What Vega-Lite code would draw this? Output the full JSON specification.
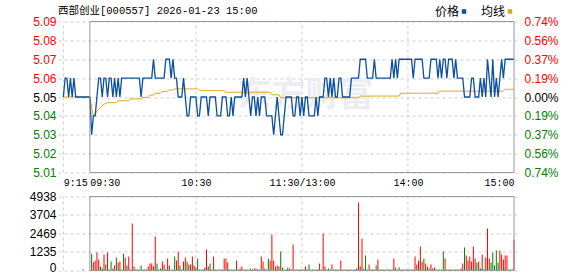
{
  "$schema": "https://vega.github.io/schema/vega-lite/v6.json",
  "width": 461,
  "height": 249,
  "autosize": {"type": "none"},
  "padding": {"left": 58, "top": 21.5, "right": 59, "bottom": 5.5},
  "background": "#ffffff",
  "data": {"values": [{}]},
  "title": {
    "text": "西部创业[000557] 2026-01-23 15:00",
    "anchor": "start",
    "frame": "group",
    "font": "Liberation Mono, Noto Sans CJK SC",
    "fontSize": 10.5,
    "fontWeight": "normal",
    "color": "#000000",
    "offset": 0,
    "dy": 11
  },
  "datasets": {
    "grid": [{"t": -15}, {"t": 60}, {"t": 120}, {"t": 180}],
    "price": [
      {"t":-15,"p":5.05,"a":5.05},{"t":-14,"p":5.06,"a":5.05},{"t":-13,"p":5.06,"a":5.05},{"t":-12,"p":5.05,"a":5.05},{"t":-11,"p":5.06,"a":5.05},{"t":-10,"p":5.05,"a":5.05},{"t":-9,"p":5.06,"a":5.05},{"t":-8,"p":5.05,"a":5.05},{"t":-7,"p":5.05,"a":5.05},{"t":-6,"p":5.05,"a":5.05},{"t":-5,"p":5.05,"a":5.05},{"t":-4,"p":5.05,"a":5.05},{"t":-3,"p":5.05,"a":5.05},{"t":-2,"p":5.05,"a":5.05},{"t":-1,"p":5.05,"a":5.05},
      {"t":0,"p":5.05,"a":5.05},{"t":1,"p":5.03,"a":5.0446},{"t":2,"p":5.04,"a":5.0395},{"t":3,"p":5.04,"a":5.041},{"t":4,"p":5.05,"a":5.0425},{"t":5,"p":5.06,"a":5.0435},{"t":6,"p":5.06,"a":5.0445},{"t":7,"p":5.05,"a":5.0455},{"t":8,"p":5.06,"a":5.0462},{"t":9,"p":5.06,"a":5.0467},
      {"t":10,"p":5.05,"a":5.047},{"t":11,"p":5.06,"a":5.047},{"t":12,"p":5.06,"a":5.047},{"t":13,"p":5.05,"a":5.047},{"t":14,"p":5.06,"a":5.047},{"t":15,"p":5.05,"a":5.047},{"t":16,"p":5.06,"a":5.048},{"t":17,"p":5.05,"a":5.048},{"t":18,"p":5.06,"a":5.048},{"t":19,"p":5.06,"a":5.048},
      {"t":20,"p":5.06,"a":5.048},{"t":21,"p":5.06,"a":5.048},{"t":22,"p":5.06,"a":5.048},{"t":23,"p":5.06,"a":5.049},{"t":24,"p":5.06,"a":5.049},{"t":25,"p":5.06,"a":5.049},{"t":26,"p":5.06,"a":5.049},{"t":27,"p":5.06,"a":5.049},{"t":28,"p":5.06,"a":5.049},{"t":29,"p":5.05,"a":5.049},
      {"t":30,"p":5.06,"a":5.0498},{"t":31,"p":5.06,"a":5.0498},{"t":32,"p":5.06,"a":5.0498},{"t":33,"p":5.06,"a":5.0498},{"t":34,"p":5.06,"a":5.051},{"t":35,"p":5.06,"a":5.051},{"t":36,"p":5.07,"a":5.051},{"t":37,"p":5.06,"a":5.052},{"t":38,"p":5.06,"a":5.052},{"t":39,"p":5.06,"a":5.052},
      {"t":40,"p":5.06,"a":5.052},{"t":41,"p":5.06,"a":5.053},{"t":42,"p":5.06,"a":5.053},{"t":43,"p":5.07,"a":5.053},{"t":44,"p":5.07,"a":5.053},{"t":45,"p":5.07,"a":5.0537},{"t":46,"p":5.06,"a":5.0537},{"t":47,"p":5.07,"a":5.0537},{"t":48,"p":5.06,"a":5.0543},{"t":49,"p":5.06,"a":5.0543},
      {"t":50,"p":5.05,"a":5.0543},{"t":51,"p":5.05,"a":5.0543},{"t":52,"p":5.05,"a":5.0543},{"t":53,"p":5.06,"a":5.0543},{"t":54,"p":5.05,"a":5.0543},{"t":55,"p":5.04,"a":5.0543},{"t":56,"p":5.04,"a":5.0543},{"t":57,"p":5.05,"a":5.0543},{"t":58,"p":5.05,"a":5.0543},{"t":59,"p":5.05,"a":5.0543},
      {"t":60,"p":5.05,"a":5.0543},{"t":61,"p":5.04,"a":5.0543},{"t":62,"p":5.04,"a":5.0534},{"t":63,"p":5.05,"a":5.0534},{"t":64,"p":5.05,"a":5.0534},{"t":65,"p":5.05,"a":5.0534},{"t":66,"p":5.05,"a":5.0534},{"t":67,"p":5.04,"a":5.0534},{"t":68,"p":5.05,"a":5.0534},{"t":69,"p":5.05,"a":5.0534},
      {"t":70,"p":5.05,"a":5.0534},{"t":71,"p":5.05,"a":5.0534},{"t":72,"p":5.04,"a":5.0534},{"t":73,"p":5.04,"a":5.0534},{"t":74,"p":5.04,"a":5.0534},{"t":75,"p":5.05,"a":5.0534},{"t":76,"p":5.05,"a":5.0534},{"t":77,"p":5.05,"a":5.0525},{"t":78,"p":5.04,"a":5.0525},{"t":79,"p":5.04,"a":5.0525},
      {"t":80,"p":5.05,"a":5.0525},{"t":81,"p":5.04,"a":5.0525},{"t":82,"p":5.05,"a":5.0525},{"t":83,"p":5.05,"a":5.0525},{"t":84,"p":5.05,"a":5.0525},{"t":85,"p":5.05,"a":5.0525},{"t":86,"p":5.05,"a":5.0525},{"t":87,"p":5.06,"a":5.0525},{"t":88,"p":5.05,"a":5.0525},{"t":89,"p":5.06,"a":5.0525},
      {"t":90,"p":5.05,"a":5.0525},{"t":91,"p":5.04,"a":5.0525},{"t":92,"p":5.05,"a":5.0525},{"t":93,"p":5.05,"a":5.0525},{"t":94,"p":5.04,"a":5.0525},{"t":95,"p":5.05,"a":5.0525},{"t":96,"p":5.04,"a":5.0525},{"t":97,"p":5.05,"a":5.0525},{"t":98,"p":5.05,"a":5.0525},{"t":99,"p":5.05,"a":5.0525},
      {"t":100,"p":5.04,"a":5.0525},{"t":101,"p":5.04,"a":5.0525},{"t":102,"p":5.04,"a":5.0525},{"t":103,"p":5.04,"a":5.0512},{"t":104,"p":5.03,"a":5.0512},{"t":105,"p":5.04,"a":5.0512},{"t":106,"p":5.05,"a":5.0512},{"t":107,"p":5.04,"a":5.0512},{"t":108,"p":5.03,"a":5.0496},{"t":109,"p":5.03,"a":5.0496},
      {"t":110,"p":5.04,"a":5.0496},{"t":111,"p":5.05,"a":5.0496},{"t":112,"p":5.05,"a":5.0496},{"t":113,"p":5.05,"a":5.0496},{"t":114,"p":5.05,"a":5.0496},{"t":115,"p":5.04,"a":5.0496},{"t":116,"p":5.04,"a":5.0496},{"t":117,"p":5.05,"a":5.0496},{"t":118,"p":5.05,"a":5.0496},{"t":119,"p":5.04,"a":5.0496},
      {"t":120,"p":5.05,"a":5.0496},{"t":121,"p":5.04,"a":5.0496},{"t":122,"p":5.05,"a":5.0496},{"t":123,"p":5.05,"a":5.0496},{"t":124,"p":5.04,"a":5.0496},{"t":125,"p":5.04,"a":5.0496},{"t":126,"p":5.04,"a":5.0496},{"t":127,"p":5.04,"a":5.0496},{"t":128,"p":5.05,"a":5.0496},{"t":129,"p":5.04,"a":5.0496},
      {"t":130,"p":5.05,"a":5.0496},{"t":131,"p":5.05,"a":5.0496},{"t":132,"p":5.05,"a":5.0496},{"t":133,"p":5.06,"a":5.0496},{"t":134,"p":5.06,"a":5.0496},{"t":135,"p":5.05,"a":5.0496},{"t":136,"p":5.06,"a":5.0496},{"t":137,"p":5.05,"a":5.0496},{"t":138,"p":5.06,"a":5.0496},{"t":139,"p":5.05,"a":5.0496},
      {"t":140,"p":5.05,"a":5.0496},{"t":141,"p":5.06,"a":5.0496},{"t":142,"p":5.06,"a":5.0496},{"t":143,"p":5.05,"a":5.0496},{"t":144,"p":5.05,"a":5.0496},{"t":145,"p":5.05,"a":5.0496},{"t":146,"p":5.05,"a":5.0496},{"t":147,"p":5.05,"a":5.0496},{"t":148,"p":5.06,"a":5.0496},{"t":149,"p":5.06,"a":5.0496},
      {"t":150,"p":5.06,"a":5.0496},{"t":151,"p":5.06,"a":5.0496},{"t":152,"p":5.06,"a":5.0496},{"t":153,"p":5.07,"a":5.0505},{"t":154,"p":5.07,"a":5.0505},{"t":155,"p":5.07,"a":5.0505},{"t":156,"p":5.07,"a":5.0505},{"t":157,"p":5.06,"a":5.0505},{"t":158,"p":5.06,"a":5.0505},{"t":159,"p":5.06,"a":5.0505},
      {"t":160,"p":5.06,"a":5.0505},{"t":161,"p":5.07,"a":5.0505},{"t":162,"p":5.06,"a":5.0505},{"t":163,"p":5.06,"a":5.0505},{"t":164,"p":5.06,"a":5.0505},{"t":165,"p":5.06,"a":5.0505},{"t":166,"p":5.06,"a":5.0505},{"t":167,"p":5.06,"a":5.0505},{"t":168,"p":5.06,"a":5.0505},{"t":169,"p":5.06,"a":5.0505},
      {"t":170,"p":5.06,"a":5.0505},{"t":171,"p":5.07,"a":5.0505},{"t":172,"p":5.06,"a":5.0505},{"t":173,"p":5.07,"a":5.0505},{"t":174,"p":5.06,"a":5.0505},{"t":175,"p":5.07,"a":5.0505},{"t":176,"p":5.07,"a":5.052},{"t":177,"p":5.07,"a":5.052},{"t":178,"p":5.07,"a":5.052},{"t":179,"p":5.07,"a":5.052},
      {"t":180,"p":5.07,"a":5.052},{"t":181,"p":5.07,"a":5.052},{"t":182,"p":5.07,"a":5.052},{"t":183,"p":5.06,"a":5.052},{"t":184,"p":5.07,"a":5.052},{"t":185,"p":5.07,"a":5.052},{"t":186,"p":5.07,"a":5.052},{"t":187,"p":5.07,"a":5.052},{"t":188,"p":5.07,"a":5.052},{"t":189,"p":5.06,"a":5.052},
      {"t":190,"p":5.06,"a":5.052},{"t":191,"p":5.06,"a":5.052},{"t":192,"p":5.06,"a":5.052},{"t":193,"p":5.07,"a":5.052},{"t":194,"p":5.07,"a":5.052},{"t":195,"p":5.07,"a":5.052},{"t":196,"p":5.07,"a":5.052},{"t":197,"p":5.06,"a":5.052},{"t":198,"p":5.07,"a":5.0531},{"t":199,"p":5.06,"a":5.0531},
      {"t":200,"p":5.07,"a":5.0531},{"t":201,"p":5.07,"a":5.0531},{"t":202,"p":5.06,"a":5.0531},{"t":203,"p":5.07,"a":5.0531},{"t":204,"p":5.07,"a":5.0531},{"t":205,"p":5.07,"a":5.0531},{"t":206,"p":5.06,"a":5.0531},{"t":207,"p":5.07,"a":5.0531},{"t":208,"p":5.06,"a":5.0531},{"t":209,"p":5.06,"a":5.0531},
      {"t":210,"p":5.06,"a":5.0531},{"t":211,"p":5.06,"a":5.0531},{"t":212,"p":5.05,"a":5.0531},{"t":213,"p":5.05,"a":5.0531},{"t":214,"p":5.05,"a":5.0531},{"t":215,"p":5.05,"a":5.0531},{"t":216,"p":5.06,"a":5.0531},{"t":217,"p":5.06,"a":5.0531},{"t":218,"p":5.05,"a":5.0531},{"t":219,"p":5.05,"a":5.0531},
      {"t":220,"p":5.05,"a":5.0531},{"t":221,"p":5.06,"a":5.0531},{"t":222,"p":5.05,"a":5.0531},{"t":223,"p":5.06,"a":5.0531},{"t":224,"p":5.05,"a":5.0531},{"t":225,"p":5.07,"a":5.0531},{"t":226,"p":5.06,"a":5.0531},{"t":227,"p":5.05,"a":5.0531},{"t":228,"p":5.07,"a":5.0531},{"t":229,"p":5.05,"a":5.0531},
      {"t":230,"p":5.06,"a":5.0531},{"t":231,"p":5.05,"a":5.0531},{"t":232,"p":5.06,"a":5.0531},{"t":233,"p":5.07,"a":5.0531},{"t":234,"p":5.06,"a":5.0531},{"t":235,"p":5.07,"a":5.0541},{"t":236,"p":5.07,"a":5.0541},{"t":237,"p":5.07,"a":5.0541},{"t":238,"p":5.07,"a":5.0541},{"t":239,"p":5.07,"a":5.0541},
      {"t":240,"p":5.07,"a":5.0541}
    ],
    "vol": [
      {"t":-4,"v":67,"dir":"up"},
      {"t":1,"v":1112,"dir":"down"},{"t":2,"v":556,"dir":"up"},{"t":3,"v":667,"dir":"up"},{"t":4,"v":1200,"dir":"up"},{"t":5,"v":734,"dir":"up"},{"t":6,"v":267,"dir":"up"},{"t":7,"v":133,"dir":"down"},{"t":8,"v":1067,"dir":"up"},{"t":9,"v":400,"dir":"down"},
      {"t":10,"v":1200,"dir":"up"},{"t":11,"v":67,"dir":"up"},{"t":12,"v":600,"dir":"down"},{"t":13,"v":133,"dir":"up"},{"t":14,"v":356,"dir":"up"},{"t":15,"v":867,"dir":"down"},{"t":16,"v":534,"dir":"up"},{"t":17,"v":600,"dir":"up"},{"t":18,"v":67,"dir":"up"},{"t":19,"v":1134,"dir":"down"},
      {"t":20,"v":867,"dir":"up"},{"t":21,"v":334,"dir":"up"},{"t":22,"v":934,"dir":"up"},{"t":23,"v":67,"dir":"up"},{"t":24,"v":3136,"dir":"up"},{"t":25,"v":267,"dir":"up"},{"t":26,"v":67,"dir":"up"},{"t":27,"v":67,"dir":"up"},{"t":28,"v":67,"dir":"up"},{"t":29,"v":334,"dir":"down"},
      {"t":30,"v":67,"dir":"up"},{"t":31,"v":67,"dir":"up"},{"t":32,"v":67,"dir":"up"},{"t":33,"v":267,"dir":"up"},{"t":34,"v":467,"dir":"up"},{"t":35,"v":467,"dir":"up"},{"t":36,"v":267,"dir":"up"},{"t":37,"v":2268,"dir":"up"},{"t":38,"v":467,"dir":"down"},{"t":39,"v":67,"dir":"up"},
      {"t":40,"v":133,"dir":"up"},{"t":41,"v":600,"dir":"up"},{"t":42,"v":400,"dir":"up"},{"t":43,"v":67,"dir":"up"},{"t":44,"v":800,"dir":"up"},{"t":45,"v":334,"dir":"up"},{"t":46,"v":67,"dir":"down"},{"t":47,"v":67,"dir":"up"},{"t":48,"v":934,"dir":"down"},{"t":49,"v":667,"dir":"up"},
      {"t":50,"v":1268,"dir":"up"},{"t":51,"v":334,"dir":"down"},{"t":52,"v":67,"dir":"up"},{"t":53,"v":600,"dir":"up"},{"t":54,"v":867,"dir":"up"},{"t":55,"v":600,"dir":"down"},{"t":56,"v":400,"dir":"up"},{"t":57,"v":400,"dir":"up"},{"t":58,"v":934,"dir":"up"},{"t":59,"v":334,"dir":"up"},
      {"t":60,"v":200,"dir":"up"},{"t":61,"v":800,"dir":"down"},{"t":62,"v":67,"dir":"up"},{"t":63,"v":67,"dir":"up"},{"t":64,"v":67,"dir":"up"},{"t":65,"v":200,"dir":"up"},{"t":66,"v":1400,"dir":"up"},{"t":67,"v":267,"dir":"up"},{"t":68,"v":467,"dir":"down"},{"t":69,"v":67,"dir":"up"},
      {"t":70,"v":934,"dir":"up"},{"t":71,"v":67,"dir":"up"},{"t":72,"v":67,"dir":"down"},{"t":73,"v":67,"dir":"up"},{"t":74,"v":67,"dir":"down"},{"t":75,"v":67,"dir":"up"},{"t":76,"v":800,"dir":"up"},{"t":77,"v":800,"dir":"up"},{"t":78,"v":534,"dir":"up"},{"t":79,"v":67,"dir":"down"},
      {"t":80,"v":67,"dir":"up"},{"t":81,"v":67,"dir":"up"},{"t":82,"v":67,"dir":"up"},{"t":83,"v":667,"dir":"up"},{"t":84,"v":67,"dir":"up"},{"t":85,"v":133,"dir":"up"},{"t":86,"v":267,"dir":"up"},{"t":87,"v":67,"dir":"up"},{"t":88,"v":67,"dir":"up"},{"t":89,"v":67,"dir":"up"},
      {"t":90,"v":67,"dir":"up"},{"t":91,"v":133,"dir":"down"},{"t":92,"v":67,"dir":"up"},{"t":93,"v":133,"dir":"up"},{"t":94,"v":133,"dir":"up"},{"t":95,"v":67,"dir":"up"},{"t":96,"v":67,"dir":"up"},{"t":97,"v":934,"dir":"up"},{"t":98,"v":600,"dir":"up"},{"t":99,"v":133,"dir":"up"},
      {"t":100,"v":67,"dir":"up"},{"t":101,"v":800,"dir":"down"},{"t":102,"v":667,"dir":"up"},{"t":103,"v":2402,"dir":"up"},{"t":104,"v":667,"dir":"up"},{"t":105,"v":267,"dir":"down"},{"t":106,"v":334,"dir":"up"},{"t":107,"v":267,"dir":"up"},{"t":108,"v":1268,"dir":"down"},{"t":109,"v":200,"dir":"down"},
      {"t":110,"v":67,"dir":"up"},{"t":111,"v":67,"dir":"up"},{"t":112,"v":200,"dir":"down"},{"t":113,"v":133,"dir":"up"},{"t":114,"v":67,"dir":"up"},{"t":115,"v":1735,"dir":"up"},{"t":116,"v":67,"dir":"up"},{"t":117,"v":67,"dir":"up"},{"t":118,"v":67,"dir":"down"},{"t":119,"v":67,"dir":"up"},
      {"t":120,"v":67,"dir":"up"},{"t":121,"v":67,"dir":"up"},{"t":122,"v":267,"dir":"up"},{"t":123,"v":67,"dir":"up"},{"t":124,"v":400,"dir":"down"},{"t":125,"v":67,"dir":"up"},{"t":126,"v":67,"dir":"down"},{"t":127,"v":67,"dir":"down"},{"t":128,"v":67,"dir":"up"},{"t":129,"v":67,"dir":"up"},
      {"t":130,"v":467,"dir":"up"},{"t":131,"v":67,"dir":"up"},{"t":132,"v":2469,"dir":"up"},{"t":133,"v":267,"dir":"up"},{"t":134,"v":67,"dir":"up"},{"t":135,"v":133,"dir":"down"},{"t":136,"v":67,"dir":"up"},{"t":137,"v":400,"dir":"up"},{"t":138,"v":67,"dir":"up"},{"t":139,"v":67,"dir":"up"},
      {"t":140,"v":67,"dir":"up"},{"t":141,"v":67,"dir":"up"},{"t":142,"v":667,"dir":"up"},{"t":143,"v":67,"dir":"up"},{"t":144,"v":67,"dir":"up"},{"t":145,"v":67,"dir":"up"},{"t":146,"v":67,"dir":"up"},{"t":147,"v":67,"dir":"up"},{"t":148,"v":67,"dir":"up"},{"t":149,"v":67,"dir":"up"},
      {"t":150,"v":67,"dir":"up"},{"t":151,"v":133,"dir":"up"},{"t":152,"v":4537,"dir":"up"},{"t":153,"v":267,"dir":"up"},{"t":154,"v":2135,"dir":"up"},{"t":155,"v":133,"dir":"up"},{"t":156,"v":1000,"dir":"down"},{"t":157,"v":67,"dir":"up"},{"t":158,"v":400,"dir":"up"},{"t":159,"v":67,"dir":"up"},
      {"t":160,"v":67,"dir":"up"},{"t":161,"v":67,"dir":"up"},{"t":162,"v":334,"dir":"down"},{"t":163,"v":734,"dir":"up"},{"t":164,"v":67,"dir":"up"},{"t":165,"v":67,"dir":"up"},{"t":166,"v":67,"dir":"up"},{"t":167,"v":67,"dir":"up"},{"t":168,"v":67,"dir":"up"},{"t":169,"v":67,"dir":"up"},
      {"t":170,"v":67,"dir":"up"},{"t":171,"v":67,"dir":"up"},{"t":172,"v":800,"dir":"up"},{"t":173,"v":200,"dir":"up"},{"t":174,"v":67,"dir":"down"},{"t":175,"v":200,"dir":"up"},{"t":176,"v":67,"dir":"up"},{"t":177,"v":67,"dir":"up"},{"t":178,"v":67,"dir":"up"},{"t":179,"v":67,"dir":"up"},
      {"t":180,"v":67,"dir":"up"},{"t":181,"v":67,"dir":"up"},{"t":182,"v":67,"dir":"down"},{"t":183,"v":67,"dir":"up"},{"t":184,"v":934,"dir":"up"},{"t":185,"v":400,"dir":"up"},{"t":186,"v":667,"dir":"up"},{"t":187,"v":1601,"dir":"up"},{"t":188,"v":600,"dir":"up"},{"t":189,"v":800,"dir":"down"},
      {"t":190,"v":467,"dir":"up"},{"t":191,"v":267,"dir":"up"},{"t":192,"v":133,"dir":"up"},{"t":193,"v":400,"dir":"up"},{"t":194,"v":133,"dir":"up"},{"t":195,"v":200,"dir":"up"},{"t":196,"v":67,"dir":"up"},{"t":197,"v":67,"dir":"up"},{"t":198,"v":67,"dir":"down"},{"t":199,"v":67,"dir":"up"},
      {"t":200,"v":1268,"dir":"down"},{"t":201,"v":800,"dir":"up"},{"t":202,"v":67,"dir":"up"},{"t":203,"v":67,"dir":"up"},{"t":204,"v":67,"dir":"up"},{"t":205,"v":67,"dir":"up"},{"t":206,"v":67,"dir":"up"},{"t":207,"v":67,"dir":"up"},{"t":208,"v":67,"dir":"down"},{"t":209,"v":67,"dir":"up"},
      {"t":210,"v":133,"dir":"up"},{"t":211,"v":467,"dir":"up"},{"t":212,"v":1535,"dir":"down"},{"t":213,"v":1000,"dir":"up"},{"t":214,"v":667,"dir":"up"},{"t":215,"v":934,"dir":"up"},{"t":216,"v":600,"dir":"up"},{"t":217,"v":1601,"dir":"up"},{"t":218,"v":800,"dir":"up"},{"t":219,"v":534,"dir":"down"},
      {"t":220,"v":600,"dir":"up"},{"t":221,"v":133,"dir":"up"},{"t":222,"v":1067,"dir":"up"},{"t":223,"v":67,"dir":"up"},{"t":224,"v":867,"dir":"up"},{"t":225,"v":2802,"dir":"up"},{"t":226,"v":800,"dir":"up"},{"t":227,"v":534,"dir":"down"},{"t":228,"v":1200,"dir":"down"},{"t":229,"v":334,"dir":"down"},
      {"t":230,"v":1334,"dir":"down"},{"t":231,"v":534,"dir":"down"},{"t":232,"v":1334,"dir":"up"},{"t":233,"v":1067,"dir":"up"},{"t":234,"v":734,"dir":"up"},{"t":235,"v":1000,"dir":"up"},{"t":236,"v":1000,"dir":"up"},{"t":237,"v":67,"dir":"up"},{"t":238,"v":67,"dir":"up"},{"t":239,"v":67,"dir":"up"},
      {"t":240,"v":2068,"dir":"up"}
    ]
  },
  "layer": [
    {
      "mark": {"type": "text", "text": "东方财富", "font": "Noto Sans CJK SC", "fontSize": 34, "fontWeight": "bold", "color": "#ededf1"},
      "encoding": {
        "x": {"datum": 122, "type": "quantitative", "title": null, "scale": {"domain": [-15.2, 240], "nice": false, "zero": false},
          "axis": {"orient": "bottom", "offset": -98, "grid": false, "title": null, "values": [-15, 0, 60, 120, 180, 240], "labelFont": "Liberation Mono", "labelFontSize": 10, "labelPadding": 5, "labelFlush": false, "labelOverlap": false, "labelExpr": "datum.value == -15 ? '9:15' : datum.value == 0 ? '09:30' : datum.value == 60 ? '10:30' : datum.value == 120 ? '11:30/13:00' : datum.value == 180 ? '14:00' : '15:00'", "labelAlign": {"condition": [{"test": "datum.value < 1", "value": "left"}, {"test": "datum.value > 239", "value": "right"}], "value": "center"}}},
        "y": {"datum": 5.0505, "type": "quantitative", "axis": null, "scale": {"domain": [5.01, 5.09], "range": [151, 0], "nice": false, "zero": false}}
      }
    },
    {
      "data": {"name": "grid"},
      "mark": {"type": "rule", "stroke": "#cccccc", "strokeDash": [3, 3], "strokeWidth": 1},
      "encoding": {
        "x": {"field": "t", "type": "quantitative", "title": null, "scale": {"domain": [-15.2, 240], "nice": false, "zero": false},
          "axis": {"orient": "bottom", "offset": -98, "grid": false, "title": null, "values": [-15, 0, 60, 120, 180, 240], "labelFont": "Liberation Mono", "labelFontSize": 10, "labelPadding": 5, "labelFlush": false, "labelOverlap": false, "labelExpr": "datum.value == -15 ? '9:15' : datum.value == 0 ? '09:30' : datum.value == 60 ? '10:30' : datum.value == 120 ? '11:30/13:00' : datum.value == 180 ? '14:00' : '15:00'", "labelAlign": {"condition": [{"test": "datum.value < 1", "value": "left"}, {"test": "datum.value > 239", "value": "right"}], "value": "center"}}},
        "y": {"datum": 5.01, "type": "quantitative", "axis": null, "scale": {"domain": [5.01, 5.09], "range": [151, 0], "nice": false, "zero": false}},
        "y2": {"datum": 5.09}
      }
    },
    {
      "data": {"name": "grid"},
      "mark": {"type": "rule", "stroke": "#cccccc", "strokeDash": [3, 3], "strokeWidth": 1},
      "encoding": {
        "x": {"field": "t", "type": "quantitative", "title": null, "scale": {"domain": [-15.2, 240], "nice": false, "zero": false},
          "axis": {"orient": "bottom", "offset": -98, "grid": false, "title": null, "values": [-15, 0, 60, 120, 180, 240], "labelFont": "Liberation Mono", "labelFontSize": 10, "labelPadding": 5, "labelFlush": false, "labelOverlap": false, "labelExpr": "datum.value == -15 ? '9:15' : datum.value == 0 ? '09:30' : datum.value == 60 ? '10:30' : datum.value == 120 ? '11:30/13:00' : datum.value == 180 ? '14:00' : '15:00'", "labelAlign": {"condition": [{"test": "datum.value < 1", "value": "left"}, {"test": "datum.value > 239", "value": "right"}], "value": "center"}}},
        "y": {"datum": 0, "type": "quantitative", "axis": null, "scale": {"domain": [0, 4938], "range": [249, 175], "nice": false}},
        "y2": {"datum": 4938}
      }
    },
    {
      "data": {"name": "vol"},
      "mark": {"type": "bar", "width": 1},
      "encoding": {
        "x": {"field": "t", "type": "quantitative", "title": null, "scale": {"domain": [-15.2, 240], "nice": false, "zero": false},
          "axis": {"orient": "bottom", "offset": -98, "grid": false, "title": null, "values": [-15, 0, 60, 120, 180, 240], "labelFont": "Liberation Mono", "labelFontSize": 10, "labelPadding": 5, "labelFlush": false, "labelOverlap": false, "labelExpr": "datum.value == -15 ? '9:15' : datum.value == 0 ? '09:30' : datum.value == 60 ? '10:30' : datum.value == 120 ? '11:30/13:00' : datum.value == 180 ? '14:00' : '15:00'", "labelAlign": {"condition": [{"test": "datum.value < 1", "value": "left"}, {"test": "datum.value > 239", "value": "right"}], "value": "center"}}},
        "y": {
          "field": "v", "type": "quantitative", "title": null,
          "scale": {"domain": [0, 4938], "range": [249, 175], "nice": false},
          "axis": {
            "orient": "left", "grid": true, "labelPadding": 2, "format": "d", "values": [0, 1235, 2469, 3704, 4938], "labelOverlap": false,
            "labelOffset": {"condition": {"test": "datum.value < 1", "value": -3}, "value": 0}
          }
        },
        "fill": {"field": "dir", "type": "nominal", "scale": {"domain": ["up", "down"], "range": ["#ff0000", "#008000"]}, "legend": null}
      }
    },
    {
      "data": {"name": "price"},
      "mark": {"type": "line", "strokeWidth": 1, "interpolate": "linear"},
      "encoding": {
        "x": {"field": "t", "type": "quantitative", "title": null, "scale": {"domain": [-15.2, 240], "nice": false, "zero": false},
          "axis": {"orient": "bottom", "offset": -98, "grid": false, "title": null, "values": [-15, 0, 60, 120, 180, 240], "labelFont": "Liberation Mono", "labelFontSize": 10, "labelPadding": 5, "labelFlush": false, "labelOverlap": false, "labelExpr": "datum.value == -15 ? '9:15' : datum.value == 0 ? '09:30' : datum.value == 60 ? '10:30' : datum.value == 120 ? '11:30/13:00' : datum.value == 180 ? '14:00' : '15:00'", "labelAlign": {"condition": [{"test": "datum.value < 1", "value": "left"}, {"test": "datum.value > 239", "value": "right"}], "value": "center"}}},
        "y": {
          "field": "a", "type": "quantitative", "title": null,
          "scale": {"domain": [5.01, 5.09], "range": [151, 0], "nice": false, "zero": false},
          "axis": {
            "orient": "right", "grid": false, "labelPadding": 5,
            "values": [5.01, 5.02, 5.03, 5.04, 5.05, 5.06, 5.07, 5.08, 5.09],
            "labelExpr": "abs(datum.value-5.05)<0.005 ? '0.00%' : abs(datum.value-5.05)<0.015 ? '0.19%' : abs(datum.value-5.05)<0.025 ? '0.37%' : abs(datum.value-5.05)<0.035 ? '0.56%' : '0.74%'",
            "labelColor": {"condition": [{"test": "datum.value > 5.055", "value": "#ff0000"}, {"test": "datum.value < 5.045", "value": "#008000"}], "value": "#000000"}
          }
        },
        "color": {"datum": "均线", "type": "nominal"}
      }
    },
    {
      "data": {"name": "price"},
      "mark": {"type": "line", "strokeWidth": 1.3, "interpolate": "linear"},
      "encoding": {
        "x": {"field": "t", "type": "quantitative", "title": null, "scale": {"domain": [-15.2, 240], "nice": false, "zero": false},
          "axis": {"orient": "bottom", "offset": -98, "grid": false, "title": null, "values": [-15, 0, 60, 120, 180, 240], "labelFont": "Liberation Mono", "labelFontSize": 10, "labelPadding": 5, "labelFlush": false, "labelOverlap": false, "labelExpr": "datum.value == -15 ? '9:15' : datum.value == 0 ? '09:30' : datum.value == 60 ? '10:30' : datum.value == 120 ? '11:30/13:00' : datum.value == 180 ? '14:00' : '15:00'", "labelAlign": {"condition": [{"test": "datum.value < 1", "value": "left"}, {"test": "datum.value > 239", "value": "right"}], "value": "center"}}},
        "y": {
          "field": "p", "type": "quantitative", "title": null,
          "scale": {"domain": [5.01, 5.09], "range": [151, 0], "nice": false, "zero": false},
          "axis": {
            "orient": "left", "grid": true, "labelPadding": 2, "format": ".2f",
            "values": [5.01, 5.02, 5.03, 5.04, 5.05, 5.06, 5.07, 5.08, 5.09],
            "labelColor": {"condition": [{"test": "datum.value > 5.055", "value": "#ff0000"}, {"test": "datum.value < 5.045", "value": "#008000"}], "value": "#000000"}
          }
        },
        "color": {
          "datum": "价格", "type": "nominal",
          "scale": {"domain": ["价格", "均线"], "range": ["#0b4fa0", "#e0a317"]},
          "legend": {
            "orient": "none", "legendX": 400, "legendY": -16, "direction": "horizontal", "title": null,
            "symbolType": "square", "symbolSize": 4, "symbolStrokeWidth": 2.5,
            "labelFont": "Noto Sans CJK SC", "labelFontSize": 12, "labelColor": "#000000",
            "labelAlign": "right", "labelOffset": -11, "columnPadding": 10, "padding": 0
          }
        }
      }
    },
    {
      "mark": {"type": "rect", "fill": "transparent", "stroke": "#999999", "strokeWidth": 1},
      "encoding": {
        "x": {"datum": 0, "type": "quantitative", "title": null, "scale": {"domain": [-15.2, 240], "nice": false, "zero": false},
          "axis": {"orient": "bottom", "offset": -98, "grid": false, "title": null, "values": [-15, 0, 60, 120, 180, 240], "labelFont": "Liberation Mono", "labelFontSize": 10, "labelPadding": 5, "labelFlush": false, "labelOverlap": false, "labelExpr": "datum.value == -15 ? '9:15' : datum.value == 0 ? '09:30' : datum.value == 60 ? '10:30' : datum.value == 120 ? '11:30/13:00' : datum.value == 180 ? '14:00' : '15:00'", "labelAlign": {"condition": [{"test": "datum.value < 1", "value": "left"}, {"test": "datum.value > 239", "value": "right"}], "value": "center"}}},
        "x2": {"datum": 240},
        "y": {"datum": 5.01, "type": "quantitative", "axis": null, "scale": {"domain": [5.01, 5.09], "range": [151, 0], "nice": false, "zero": false}},
        "y2": {"datum": 5.09}
      }
    },
    {
      "mark": {"type": "rect", "fill": "transparent", "stroke": "#999999", "strokeWidth": 1},
      "encoding": {
        "x": {"datum": 0, "type": "quantitative", "title": null, "scale": {"domain": [-15.2, 240], "nice": false, "zero": false},
          "axis": {"orient": "bottom", "offset": -98, "grid": false, "title": null, "values": [-15, 0, 60, 120, 180, 240], "labelFont": "Liberation Mono", "labelFontSize": 10, "labelPadding": 5, "labelFlush": false, "labelOverlap": false, "labelExpr": "datum.value == -15 ? '9:15' : datum.value == 0 ? '09:30' : datum.value == 60 ? '10:30' : datum.value == 120 ? '11:30/13:00' : datum.value == 180 ? '14:00' : '15:00'", "labelAlign": {"condition": [{"test": "datum.value < 1", "value": "left"}, {"test": "datum.value > 239", "value": "right"}], "value": "center"}}},
        "x2": {"datum": 240},
        "y": {"datum": 0, "type": "quantitative", "axis": null, "scale": {"domain": [0, 4938], "range": [249, 175], "nice": false}},
        "y2": {"datum": 4938}
      }
    }
  ],
  "resolve": {"scale": {"y": "independent"}, "axis": {"y": "independent"}},
  "config": {
    "view": {"stroke": null},
    "axis": {"domain": false, "ticks": false, "gridColor": "#cccccc", "gridDash": [3, 3], "gridWidth": 1, "labelFont": "Liberation Sans", "labelFontSize": 12, "labelColor": "#000000"}
  }
}
